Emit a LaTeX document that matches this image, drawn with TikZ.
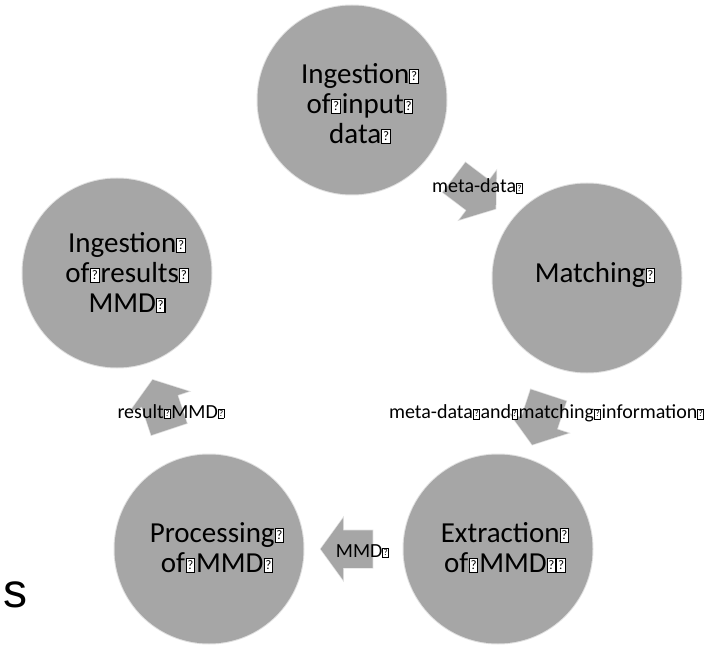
\documentclass[tikz,border=0pt]{standalone}
\usepackage{fontspec}
\setmainfont{Carlito}
\newfontfamily\libsans{Liberation Sans}
\usepackage{graphicx}
\usetikzlibrary{shapes.arrows,calc}
\definecolor{cgrey}{HTML}{A6A6A6}
% missing-glyph box as printed in the reference
\newcommand{\mgb}{\begingroup\setlength{\fboxsep}{0pt}\setlength{\fboxrule}{0.035em}%
  \fcolorbox{black}{white}{\makebox[0.26em]{\rule{0pt}{0.44em}\raisebox{0.08em}{\scalebox{0.45}{?}}}}\endgroup}
% box standing in for a space between words
\newcommand{\mgo}{\kern0.02em\mgb\kern0.03em}
\tikzset{
  circ/.style={circle, fill=cgrey, draw=cgrey, draw opacity=0.35, line width=2pt,
    minimum size=189pt, inner sep=0pt},
  ctext/.style={align=center, inner sep=0pt, text=black,
    font=\fontsize{29}{30}\selectfont},
  blockarrow/.style={single arrow, fill=cgrey, draw=cgrey, draw opacity=0.35, line width=1.5pt,
    inner xsep=0pt, inner ysep=18pt, minimum height=52pt,
    single arrow head extend=12pt, single arrow tip angle=108},
  lab/.style={inner sep=0pt, anchor=base, text=black,
    font=\fontsize{20}{22}\selectfont}
}
\begin{document}
\begin{tikzpicture}[x=1pt,y=-1pt]
\useasboundingbox (0,0) rectangle (723,647);
% circles
\node[circ] (top)   at (352,100) {};
\node[circ] (match) at (587,278) {};
\node[circ] (ext)   at (498,549) {};
\node[circ] (proc)  at (209,549) {};
\node[circ] (res)   at (117,273) {};
% circle texts
\node[ctext] (topt)   at ($(top)+(8,3.6)$)   {Ingestion\mgb\\of\mgo input\mgb\\data\mgb};
\node[ctext, anchor=base] (matcht) at ($(match)+(8,4)$) {Matching\mgb};
\node[ctext] (extt)   at ($(ext)+(7,-1.4)$)  {Extraction\mgb\\of\mgo MMD\mgb\mgb};
\node[ctext] (proct)  at ($(proc)+(8,-1.4)$) {Processing\mgb\\of\mgo MMD\mgb};
\node[ctext] (rest)   at ($(res)+(10,-0.4)$) {Ingestion\mgb\\of\mgo results\mgb\\MMD\mgb};
% block arrows between the circles
\node[blockarrow, rotate=-37.1]  (a1) at ($(top)!0.5!(match)$) {};
\node[blockarrow, rotate=-108.2] (a2) at ($(match)!0.5!(ext)$) {};
\node[blockarrow, rotate=180]    (a3) at ($(ext)!0.5!(proc)$) {};
\node[blockarrow, rotate=108.4]  (a4) at ($(proc)!0.5!(res)$) {};
% arrow labels
\node[lab] (l1) at ($(a1)+(8,4)$)  {meta-data\mgb};
\node[lab] (l2) at ($(a2)+(4,5)$)  {meta-data\mgo and\mgo matching\mgo information\mgb};
\node[lab] (l3) at ($(a3)+(9,8)$)  {MMD\mgb};
\node[lab] (l4) at ($(a4)+(8,7)$)  {result\mgo MMD\mgb};
% fragment of text at the left edge
\node[inner sep=0pt, anchor=base west, font=\libsans\fontsize{48}{50}\selectfont] (frag) at (3,607) {s};
\end{tikzpicture}
\end{document}
